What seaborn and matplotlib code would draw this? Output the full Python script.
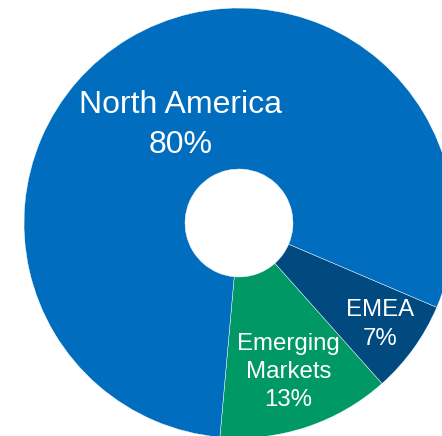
import numpy as np
import matplotlib
matplotlib.use("Agg")
import matplotlib.pyplot as plt
import seaborn as sns

sns.set_theme(style="white")
plt.rcParams['font.family'] = ['Liberation Sans', 'DejaVu Sans']

regions = ["Emerging\nMarkets", "EMEA", "North America"]
shares = [13, 7, 80]
colors = ["#009966", "#004A80", "#006DBF"]
label_r = [0.73, 0.81, 0.53]
label_size = [17.3, 17.3, 23]
label_ls = [1.33, 1.45, 1.42]

fig = plt.figure(figsize=(4.42, 4.36), dpi=100)
ax = fig.add_axes([0, 0, 1, 1])
wedges, _ = ax.pie(shares, colors=colors, startangle=264.9, counterclock=True,
                   radius=1.0, wedgeprops=dict(width=0.749, edgecolor="white", linewidth=0.3))
for w, name, v, r, fs, ls in zip(wedges, regions, shares, label_r, label_size, label_ls):
    mid = np.deg2rad((w.theta1 + w.theta2) / 2)
    ax.text(r * np.cos(mid), r * np.sin(mid), f"{name}\n{v}%", ha="center", va="center",
            color="white", fontsize=fs, linespacing=ls)
ax.set_xlim(-239 / 215, 203 / 215)
ax.set_ylim(-213 / 215, 223 / 215)
ax.set_aspect("equal")
ax.axis("off")
fig.savefig("out.png", dpi=100)
